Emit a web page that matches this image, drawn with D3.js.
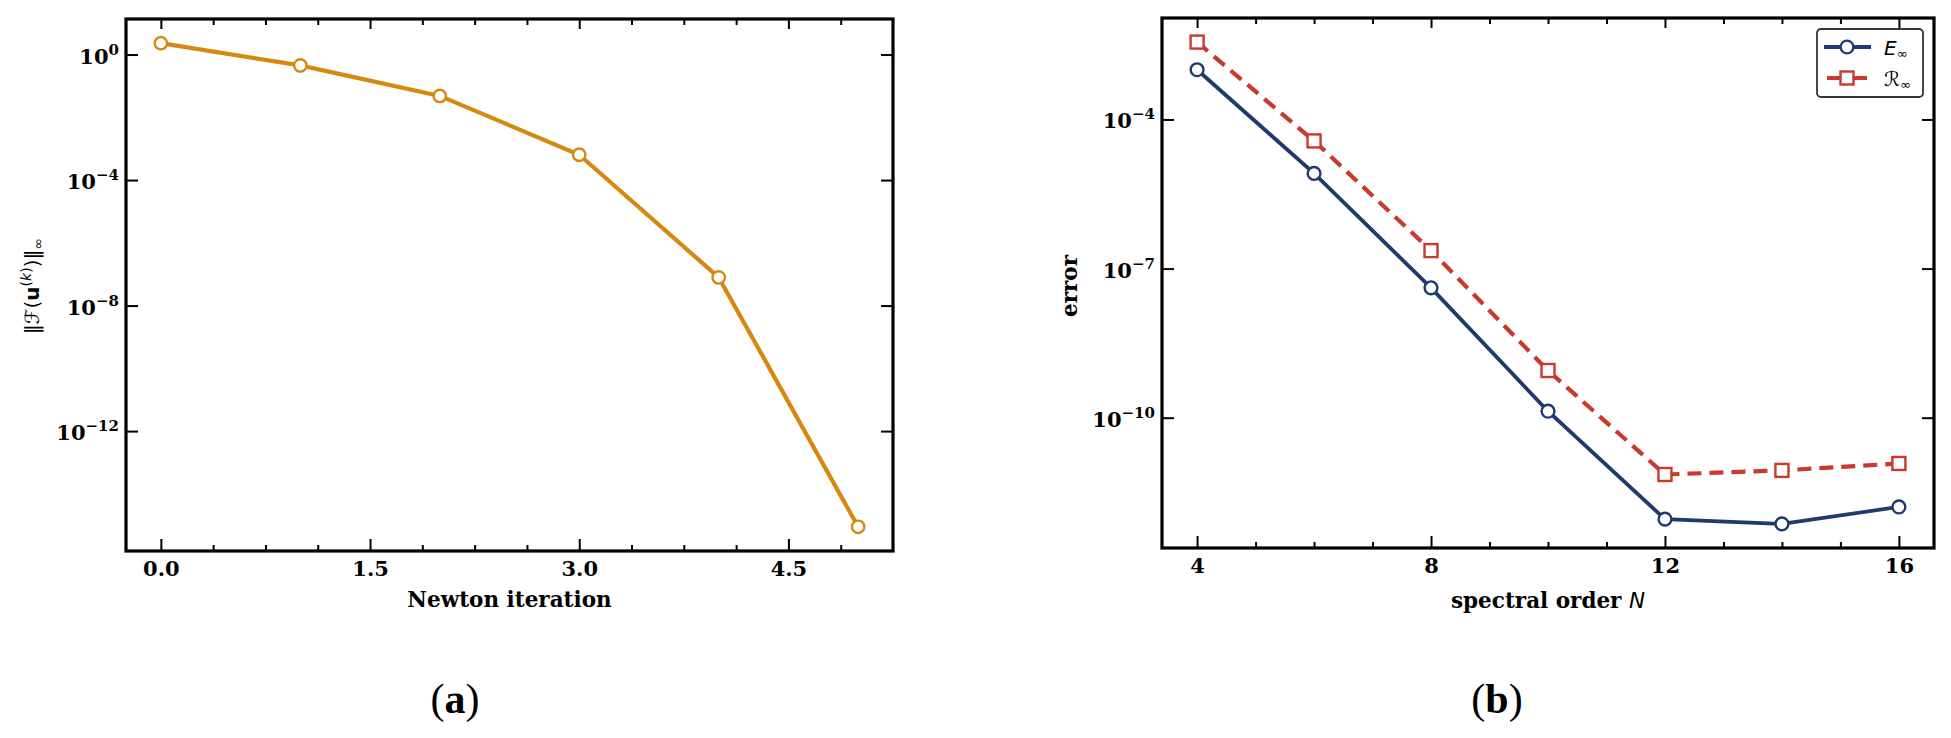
<!DOCTYPE html>
<html>
<head>
<meta charset="utf-8">
<script src="https://cdn.jsdelivr.net/npm/d3@7"></script>
<style>
    body { margin: 0; background: #fff; }
</style>
</head>
<body>
<script>
    // values
    let iterations = [0, 1, 2, 3, 4, 5];
    let residualNorm = [2.3, 0.45, 0.048, 6.4e-4, 7.9e-8, 8.9e-16];

    let orders = [4, 6, 8, 10, 12, 14, 16];
    let errE = [1.0e-3, 8.2e-6, 4.1e-8, 1.35e-10, 9.1e-13, 7.3e-13, 1.6e-12];
    let errR = [3.6e-3, 3.7e-5, 2.3e-7, 8.9e-10, 7.2e-12, 8.7e-12, 1.2e-11];

    let iterTicks = [0, 1.5, 3.0, 4.5];
    let residualTickExp = [0, -4, -8, -12];
    let orderTicks = [4, 8, 12, 16];
    let errorTickExp = [-4, -7, -10];

    let orange = "#d68910";
    let navy = "#1f3a6d";
    let red = "#c9392c";

    let tickFont = "DejaVu Serif";

    let svg = d3.select("body").append("svg")
        .attr("width", 1951)
        .attr("height", 738);

    // matplotlib style 5% margins
    function linDomain(vals) {
        let lo = d3.min(vals), hi = d3.max(vals);
        let m = (hi - lo) * 0.05;
        return [lo - m, hi + m];
    }
    function logDomain(vals) {
        let lo = Math.log10(d3.min(vals)), hi = Math.log10(d3.max(vals));
        let m = (hi - lo) * 0.05;
        return [Math.pow(10, lo - m), Math.pow(10, hi + m)];
    }

    function drawAxes(box, x, y, xMajor, xMinor, yMajor, xFormat) {
        let g = svg.append("g");
        let clean = a => a.call(s => s.select(".domain").remove())
            .selectAll("line").attr("stroke-width", 2);

        // bottom, with labels
        let bottom = g.append("g")
            .attr("transform", `translate(0,${box.bottom})`)
            .call(d3.axisBottom(x).tickValues(xMajor).tickSize(-12).tickPadding(10).tickFormat(xFormat));
        clean(bottom);
        bottom.selectAll("text")
            .attr("font-family", tickFont)
            .attr("font-weight", "bold")
            .attr("font-size", 21)
            .attr("fill", "#000");
        clean(g.append("g").attr("transform", `translate(0,${box.bottom})`)
            .call(d3.axisBottom(x).tickValues(xMinor).tickSize(-6).tickFormat("")));

        // top, no labels
        clean(g.append("g").attr("transform", `translate(0,${box.top})`)
            .call(d3.axisTop(x).tickValues(xMajor).tickSize(-10).tickFormat("")));
        clean(g.append("g").attr("transform", `translate(0,${box.top})`)
            .call(d3.axisTop(x).tickValues(xMinor).tickSize(-6).tickFormat("")));

        // left and right
        let yVals = yMajor.map(e => Math.pow(10, e));
        clean(g.append("g").attr("transform", `translate(${box.left},0)`)
            .call(d3.axisLeft(y).tickValues(yVals).tickSize(-12).tickFormat("")));
        clean(g.append("g").attr("transform", `translate(${box.right},0)`)
            .call(d3.axisRight(y).tickValues(yVals).tickSize(-12).tickFormat("")));

        // 10^n labels
        let lab = g.selectAll(".ylab").data(yMajor).enter().append("text")
            .attr("x", box.left - 7)
            .attr("y", d => y(Math.pow(10, d)) + 9)
            .attr("text-anchor", "end")
            .attr("font-family", tickFont)
            .attr("font-weight", "bold")
            .attr("font-size", 21);
        lab.append("tspan").text("10");
        lab.append("tspan")
            .attr("font-size", 15)
            .attr("dy", -9)
            .text(d => d === 0 ? "0" : "\u2212" + Math.abs(d));

        // frame
        g.append("rect")
            .attr("x", box.left)
            .attr("y", box.top)
            .attr("width", box.right - box.left)
            .attr("height", box.bottom - box.top)
            .attr("fill", "none")
            .attr("stroke", "#000")
            .attr("stroke-width", 3.2);
    }

    // ---------- (a) Newton residual ----------
    let boxA = { left: 126, right: 893, top: 19, bottom: 551 };
    let xA = d3.scaleLinear().domain(linDomain(iterations)).range([boxA.left, boxA.right]);
    let yA = d3.scaleLog().domain(logDomain(residualNorm)).range([boxA.bottom, boxA.top]);

    let minorA = d3.range(0, 5.25, 0.375).filter(v => !iterTicks.includes(v));
    drawAxes(boxA, xA, yA, iterTicks, minorA, residualTickExp, d3.format(".1f"));

    let lineA = d3.line()
        .x((d, i) => xA(iterations[i]))
        .y(d => yA(d));

    svg.append("path")
        .datum(residualNorm)
        .attr("d", lineA)
        .attr("fill", "none")
        .attr("stroke", orange)
        .attr("stroke-width", 4.2);

    svg.selectAll(".ptA").data(residualNorm).enter().append("circle")
        .attr("cx", (d, i) => xA(iterations[i]))
        .attr("cy", d => yA(d))
        .attr("r", 6.2)
        .attr("fill", "#fff")
        .attr("stroke", orange)
        .attr("stroke-width", 2.4);

    svg.append("text")
        .attr("x", (boxA.left + boxA.right) / 2)
        .attr("y", 607)
        .attr("text-anchor", "middle")
        .attr("font-family", tickFont)
        .attr("font-weight", "bold")
        .attr("font-size", 21.5)
        .text("Newton iteration");

    let yLabA = svg.append("text")
        .attr("transform", "translate(39,286) rotate(-90)")
        .attr("text-anchor", "middle")
        .attr("font-family", "DejaVu Sans")
        .attr("font-size", 20);
    yLabA.append("tspan").text("\u2016\u2131(");
    yLabA.append("tspan").attr("font-weight", "bold").text("u");
    yLabA.append("tspan").attr("font-size", 14).attr("dy", -8).text("(");
    yLabA.append("tspan").attr("font-size", 14).attr("font-style", "italic").text("k");
    yLabA.append("tspan").attr("font-size", 14).text(")");
    yLabA.append("tspan").attr("dy", 8).text(")\u2016");
    yLabA.append("tspan").attr("font-size", 14).attr("dy", 4).text("\u221e");

    // ---------- (b) spectral convergence ----------
    let boxB = { left: 1162, right: 1934, top: 18, bottom: 548 };
    let xB = d3.scaleLinear().domain(linDomain(orders)).range([boxB.left, boxB.right]);
    let yB = d3.scaleLog().domain(logDomain(errE.concat(errR))).range([boxB.bottom, boxB.top]);

    let minorB = d3.range(4, 17, 1).filter(v => !orderTicks.includes(v));
    drawAxes(boxB, xB, yB, orderTicks, minorB, errorTickExp, d3.format("d"));

    let lineB = d3.line()
        .x((d, i) => xB(orders[i]))
        .y(d => yB(d));

    svg.append("path")
        .datum(errE)
        .attr("d", lineB)
        .attr("fill", "none")
        .attr("stroke", navy)
        .attr("stroke-width", 3.8);

    svg.append("path")
        .datum(errR)
        .attr("d", lineB)
        .attr("fill", "none")
        .attr("stroke", red)
        .attr("stroke-width", 4.2)
        .attr("stroke-dasharray", "14,8");

    svg.selectAll(".ptE").data(errE).enter().append("circle")
        .attr("cx", (d, i) => xB(orders[i]))
        .attr("cy", d => yB(d))
        .attr("r", 6.4)
        .attr("fill", "#fff")
        .attr("stroke", navy)
        .attr("stroke-width", 2.4);

    svg.selectAll(".ptR").data(errR).enter().append("rect")
        .attr("x", (d, i) => xB(orders[i]) - 6.5)
        .attr("y", d => yB(d) - 6.5)
        .attr("width", 13)
        .attr("height", 13)
        .attr("fill", "#fff")
        .attr("stroke", red)
        .attr("stroke-width", 2.4);

    let xLabB = svg.append("text")
        .attr("x", (boxB.left + boxB.right) / 2)
        .attr("y", 608)
        .attr("text-anchor", "middle")
        .attr("font-family", tickFont)
        .attr("font-weight", "bold")
        .attr("font-size", 21.5);
    xLabB.append("tspan").text("spectral order ");
    xLabB.append("tspan")
        .attr("font-family", "DejaVu Sans")
        .attr("font-weight", "normal")
        .attr("font-style", "italic")
        .text("N");

    svg.append("text")
        .attr("transform", "translate(1077,286) rotate(-90)")
        .attr("text-anchor", "middle")
        .attr("font-family", tickFont)
        .attr("font-weight", "bold")
        .attr("font-size", 21.5)
        .text("error");

    // legend
    let leg = svg.append("g");
    leg.append("rect")
        .attr("x", 1817).attr("y", 29)
        .attr("width", 106).attr("height", 68)
        .attr("rx", 4)
        .attr("fill", "#fff")
        .attr("stroke", "#333")
        .attr("stroke-width", 1.8);

    leg.append("line")
        .attr("x1", 1824).attr("x2", 1871)
        .attr("y1", 47).attr("y2", 47)
        .attr("stroke", navy).attr("stroke-width", 3.8);
    leg.append("circle")
        .attr("cx", 1847).attr("cy", 47).attr("r", 6.4)
        .attr("fill", "#fff").attr("stroke", navy).attr("stroke-width", 2.4);

    leg.append("line")
        .attr("x1", 1827).attr("x2", 1867)
        .attr("y1", 78).attr("y2", 78)
        .attr("stroke", red).attr("stroke-width", 4.2)
        .attr("stroke-dasharray", "13,14,13");
    leg.append("rect")
        .attr("x", 1840.5).attr("y", 71.5).attr("width", 13).attr("height", 13)
        .attr("fill", "#fff").attr("stroke", red).attr("stroke-width", 2.4);

    let legE = leg.append("text")
        .attr("x", 1884).attr("y", 55)
        .attr("font-family", "DejaVu Sans")
        .attr("font-size", 20);
    legE.append("tspan").attr("font-style", "italic").text("E");
    legE.append("tspan").attr("font-size", 13).attr("dy", 3).text("\u221e");

    let legR = leg.append("text")
        .attr("x", 1884).attr("y", 86)
        .attr("font-family", "DejaVu Sans")
        .attr("font-size", 20);
    legR.append("tspan").text("\u211b");
    legR.append("tspan").attr("font-size", 13).attr("dy", 3).text("\u221e");

    // panel captions
    [["a", 455], ["b", 1497]].forEach(p => {
        let t = svg.append("text")
            .attr("x", p[1])
            .attr("y", 713)
            .attr("text-anchor", "middle")
            .attr("font-family", "Liberation Serif")
            .attr("font-size", 42);
        t.append("tspan").text("(");
        t.append("tspan").attr("font-weight", "bold").text(p[0]);
        t.append("tspan").text(")");
    });
</script>
</body>
</html>
